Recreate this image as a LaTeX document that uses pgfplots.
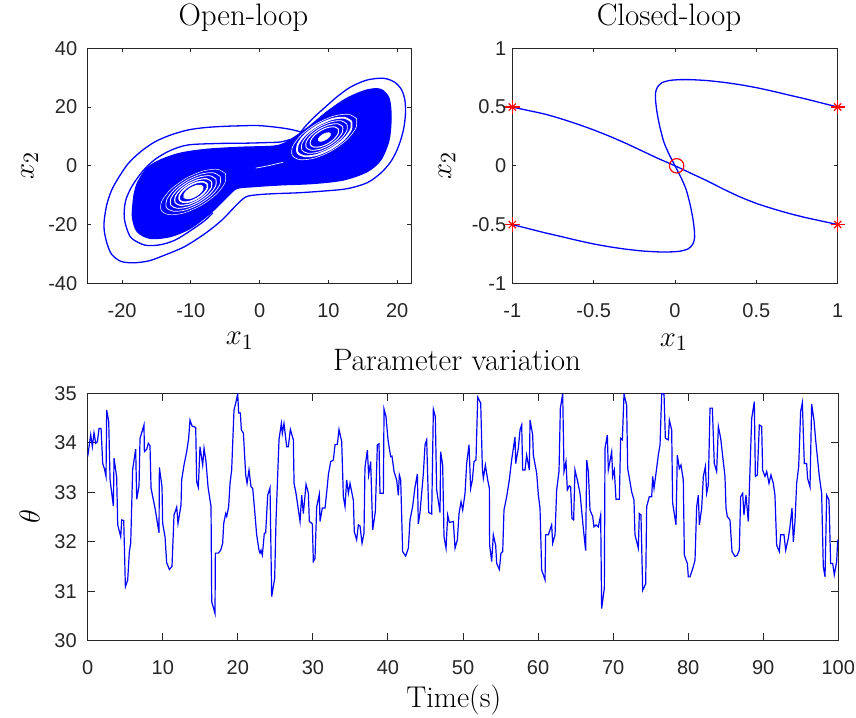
\documentclass[border=0pt]{standalone}
\usepackage{fontspec}
\usepackage{pgfplots}
\pgfplotsset{compat=1.18}
\newfontfamily\ticksf{Liberation Sans}
\definecolor{axgray}{rgb}{0.15,0.15,0.15}

\pgfplotsset{
  mlab/.style={
    scale only axis,
    axis line style={axgray, line width=0.5pt},
    every tick/.style={axgray, line width=0.5pt},
    tick label style={font=\ticksf\fontsize{10}{12}\selectfont, text=axgray},
    /pgf/number format/assume math mode=true,
    title style={font=\fontsize{15.5}{18}\selectfont, anchor=base,
      at={(axis description cs:0.5,1)}, yshift=5.5pt, xshift=-3pt},
    label style={font=\fontsize{15}{18}\selectfont},
    xticklabel style={yshift=-6.5pt},
  },
  traj/.style={blue, line width=0.65pt},
}

\begin{document}
\begin{tikzpicture}
\useasboundingbox (0,0) rectangle (428pt,358.5pt);

% ---------------- open-loop attractor ----------------
\begin{axis}[mlab,
  at={(43.85pt,216.85pt)}, anchor=south west,
  width=161.65pt, height=117.5pt,
  xmin=-25, xmax=22, ymin=-40, ymax=40,
  xtick={-20,-10,0,10,20}, ytick={-40,-20,0,20,40},
  major tick length=1.8pt,
  yticklabel style={xshift=-1.7pt},
  title={Open-loop},
  xlabel={$x_1$}, ylabel={$x_2$},
  xlabel style={at={([xshift=-4.8pt,yshift=-30.8pt]axis description cs:0.5,0)}, anchor=base},
  ylabel style={at={([xshift=-29pt]axis description cs:0,0.5)}, anchor=center},
]
% dense core of the trajectory
\addplot[draw=blue, fill=blue, line width=0.65pt, smooth, tension=0.5] coordinates {
(-18.3,-10.5) (-17.8,-6) (-16.4,-0.9) (-14.4,2) (-11.5,4.3) (-7.7,5.6) (-2.8,6.3)
(2.1,6.7) (4,8.2) (6.9,12.8) (9.8,18.4) (12.7,23) (15.6,25.8) (17.6,26) (18.8,23)
(19.1,16.7) (18.8,8.8) (17.6,2) (15.6,-2) (12.2,-4.8) (7.9,-6) (3,-6.5) (-0.9,-7.1)
(-3.3,-7.7) (-4.7,-10.5) (-7.2,-16.2) (-10.1,-21.3) (-13,-24.1) (-15.9,-24.7)
(-17.8,-22.4) (-18.5,-17.3) (-18.3,-10.5)};
% outer excursions
\addplot[traj, smooth, tension=0.5] coordinates {
(5.6,9.8) (6.3,12.5) (7.8,16.3) (9.5,19.9) (11.2,23.4) (13.2,26.8) (15.6,29.2) (18,29.8)
(19.6,28.5) (20.6,26) (21.1,22.5) (21.2,18) (21,13.5) (20.6,9.5) (19.9,5) (19,1.2)
(17.6,-2.5) (15.6,-5.8) (12.7,-7.8) (9.3,-8.6) (5.5,-9.2) (2,-9.5) (-0.5,-9.9)
(-2.1,-10.7) (-3.6,-13.9) (-5.5,-18.5) (-7.9,-23) (-10.9,-27.5) (-13.8,-30.4)
(-16,-32.3) (-18.1,-33) (-20.1,-32.6) (-21.5,-30.2) (-22.2,-26.4) (-22.6,-22)
(-22.6,-18.5) (-22.2,-13) (-21.5,-8.2) (-20.5,-4) (-19.1,0.8) (-17.3,4.8) (-15.2,8.2)
(-12.8,10.6) (-10.4,12.2) (-8,13) (-5.5,13.4) (-3,13.6) (-0.2,13.7) (2.5,13.1)
(4.5,12.4) (5.9,11.6) (7,11.2)};
\addplot[traj, smooth, tension=0.5] coordinates {
(4.5,9) (3,8.1) (1,7.9) (-2.1,7.7) (-6,7.6) (-10.4,7.1) (-13,5.2) (-15.2,2.2)
(-17,-1.8) (-18.6,-7.1) (-19.5,-12) (-19.7,-17.3) (-19.3,-21.5) (-18.6,-24.7)
(-16.7,-27) (-14.5,-26.9) (-12.3,-25.3) (-10,-22) (-7.9,-18.5) (-6.8,-16)};
% gaps between the inner turns, left wing
\addplot[draw=white, fill=white, line width=0.3pt, smooth] coordinates {
(-8.25,-7.05) (-8.62,-6.56) (-9.26,-6.71) (-10.00,-7.45) (-10.65,-8.58) (-11.02,-9.81)
(-11.03,-10.79) (-10.66,-11.28) (-10.02,-11.13) (-9.28,-10.39) (-8.63,-9.26) (-8.26,-8.04)
(-8.25,-7.05)};
\addplot[white, line width=0.8pt, smooth] coordinates {
(-7.62,-6.20) (-8.17,-5.46) (-9.11,-5.64) (-10.19,-6.71) (-11.12,-8.37) (-11.66,-10.17)
(-11.66,-11.64) (-11.11,-12.39) (-10.18,-12.20) (-9.10,-11.13) (-8.16,-9.47) (-7.62,-7.67)
(-7.62,-6.20)};
\addplot[white, line width=0.55pt, smooth] coordinates {
(-7.00,-5.35) (-7.70,-4.42) (-8.92,-4.71) (-10.33,-6.12) (-11.56,-8.28) (-12.28,-10.62)
(-12.29,-12.49) (-11.59,-13.42) (-10.36,-13.13) (-8.95,-11.72) (-7.72,-9.56) (-7.00,-7.23)
(-7.00,-5.35)};
\addplot[white, line width=0.45pt, smooth] coordinates {
(-6.37,-4.49) (-7.22,-3.39) (-8.73,-3.77) (-10.48,-5.53) (-12.00,-8.20) (-12.90,-11.06)
(-12.92,-13.35) (-12.06,-14.45) (-10.55,-14.07) (-8.80,-12.31) (-7.28,-9.64) (-6.39,-6.78)
(-6.37,-4.49)};
\addplot[white, line width=0.35pt, smooth] coordinates {
(-5.74,-3.64) (-6.75,-2.36) (-8.54,-2.84) (-10.62,-4.94) (-12.44,-8.11) (-13.51,-11.50)
(-13.55,-14.20) (-12.53,-15.48) (-10.74,-15.01) (-8.66,-12.90) (-6.84,-9.73) (-5.77,-6.34)
(-5.74,-3.64)};
\addplot[white, line width=0.25pt, smooth] coordinates {
(-4.98,-2.62) (-6.17,-1.18) (-8.29,-1.81) (-10.77,-4.35) (-12.95,-8.11) (-14.24,-12.09)
(-14.30,-15.22) (-13.11,-16.66) (-10.99,-16.03) (-8.51,-13.49) (-6.33,-9.73) (-5.04,-5.75)
(-4.98,-2.62)};
% gaps between the inner turns, right wing
\addplot[draw=white, fill=white, line width=0.3pt, smooth] coordinates {
(10.29,10.99) (10.07,11.27) (9.66,11.16) (9.19,10.69) (8.78,9.97) (8.54,9.21)
(8.53,8.61) (8.76,8.33) (9.16,8.44) (9.63,8.92) (10.04,9.63) (10.28,10.39) (10.29,10.99)};
\addplot[white, line width=0.5pt, smooth] coordinates {
(11.43,12.52) (10.88,13.27) (9.95,13.08) (8.87,12.01) (7.93,10.35) (7.39,8.55)
(7.39,7.08) (7.94,6.34) (8.88,6.52) (9.96,7.59) (10.89,9.25) (11.43,11.05) (11.43,12.52)};
\addplot[white, line width=0.45pt, smooth] coordinates {
(12.06,13.37) (11.36,14.30) (10.13,14.01) (8.72,12.60) (7.49,10.44) (6.77,8.11)
(6.77,6.23) (7.47,5.30) (8.69,5.59) (10.10,7.00) (11.33,9.16) (12.05,11.50) (12.06,13.37)};
\addplot[white, line width=0.4pt, smooth] coordinates {
(12.69,14.23) (11.83,15.33) (10.32,14.95) (8.57,13.19) (7.05,10.52) (6.16,7.66)
(6.14,5.37) (6.99,4.27) (8.50,4.65) (10.25,6.41) (11.77,9.08) (12.67,11.94) (12.69,14.23)};
\addplot[white, line width=0.9pt, smooth] coordinates {
(13.32,15.08) (12.30,16.36) (10.51,15.89) (8.43,13.78) (6.61,10.61) (5.54,7.22)
(5.51,4.52) (6.52,3.24) (8.31,3.72) (10.39,5.82) (12.21,8.99) (13.28,12.38) (13.32,15.08)};
\addplot[white, line width=0.3pt, smooth] coordinates {
(14.07,16.10) (12.88,17.54) (10.76,16.91) (8.28,14.37) (6.10,10.61) (4.81,6.63)
(4.75,3.50) (5.94,2.06) (8.06,2.69) (10.54,5.23) (12.72,8.99) (14.01,12.97) (14.07,16.10)};
% thin sliver where the wings cross over
\addplot[white, line width=0.35pt, smooth] coordinates {(-0.6,-0.8) (1.2,0) (3.4,1.2)};
\end{axis}

% ---------------- closed-loop trajectories ----------------
\begin{axis}[mlab,
  at={(256.15pt,216.85pt)}, anchor=south west,
  width=162.7pt, height=117.5pt,
  xmin=-1, xmax=1, ymin=-1, ymax=1,
  xtick={-1,-0.5,0,0.5,1}, ytick={-1,-0.5,0,0.5,1},
  major tick length=1.8pt,
  yticklabel style={xshift=0.5pt},
  clip=false,
  title={Closed-loop},
  xlabel={$x_1$}, ylabel={$x_2$},
  xlabel style={at={([xshift=-0.6pt,yshift=-31.5pt]axis description cs:0.5,0)}, anchor=base},
  ylabel style={at={([xshift=-32.6pt]axis description cs:0,0.5)}, anchor=center},
]
\addplot[traj, smooth, tension=0.4] coordinates {
(-1,0.5) (-0.9,0.47) (-0.8,0.44) (-0.7,0.40) (-0.6,0.355) (-0.5,0.305) (-0.4,0.25)
(-0.3,0.19) (-0.2,0.125) (-0.1,0.06) (0,0) (0.1,-0.065) (0.2,-0.13) (0.3,-0.2)
(0.4,-0.265) (0.5,-0.32) (0.6,-0.365) (0.7,-0.405) (0.8,-0.44) (0.9,-0.47) (1,-0.5)};
\addplot[traj, smooth, tension=0.4] coordinates {
(1,0.5) (0.9,0.535) (0.8,0.57) (0.7,0.602) (0.6,0.635) (0.5,0.665) (0.4,0.69)
(0.3,0.71) (0.2,0.725) (0.1,0.733) (0.03,0.733) (-0.03,0.727) (-0.08,0.708)
(-0.108,0.67) (-0.12,0.62) (-0.119,0.55) (-0.11,0.45) (-0.093,0.33) (-0.068,0.2)
(-0.037,0.1) (0,0) (0.037,-0.1) (0.068,-0.2) (0.093,-0.33) (0.11,-0.45) (0.119,-0.55)
(0.12,-0.62) (0.108,-0.67) (0.08,-0.708) (0.03,-0.727) (-0.03,-0.733) (-0.1,-0.733)
(-0.2,-0.725) (-0.3,-0.71) (-0.4,-0.69) (-0.5,-0.665) (-0.6,-0.635) (-0.7,-0.602)
(-0.8,-0.57) (-0.9,-0.535) (-1,-0.5)};
% initial states
\addplot[only marks, red, mark=+, mark size=3.6pt, line width=0.6pt]
  coordinates {(-1,0.5) (1,0.5) (-1,-0.5) (1,-0.5)};
\addplot[only marks, red, mark=x, mark size=2.55pt, line width=0.6pt]
  coordinates {(-1,0.5) (1,0.5) (-1,-0.5) (1,-0.5)};
% equilibrium
\addplot[only marks, red, mark=o, mark size=3.6pt, line width=0.6pt]
  coordinates {(0.01,0)};
\end{axis}

% ---------------- parameter variation ----------------
\begin{axis}[mlab,
  at={(43.85pt,38.15pt)}, anchor=south west,
  width=375.3pt, height=123.7pt,
  xmin=0, xmax=100, ymin=30, ymax=35,
  xtick={0,10,...,100}, ytick={30,31,...,35},
  major tick length=3.7pt,
  yticklabel style={xshift=-2pt},
  title={Parameter variation},
  xlabel={Time(s)}, ylabel={$\theta$},
  xlabel style={at={([xshift=-4.6pt,yshift=-33.2pt]axis description cs:0.5,0)}, anchor=base},
  ylabel style={at={([xshift=-29pt]axis description cs:0,0.5)}, anchor=center},
]
\addplot[traj, line width=0.6pt] coordinates {
(0,33.72) (0.40,34.16) (0.62,33.92) (0.84,34.20) (1.07,33.99) (1.29,34.02) (1.51,34.29)
(1.78,34.29) (2.00,33.58) (2.22,33.48) (2.44,33.32) (2.53,34.66) (2.80,34.43) (2.98,33.25)
(3.42,32.72) (3.51,33.69) (3.86,33.30) (4.00,32.34) (4.40,32.10) (4.53,32.44) (4.80,32.43)
(5.02,31.09) (5.33,31.23) (5.55,31.80) (5.73,31.97) (5.99,33.46) (6.39,33.87) (6.53,32.86)
(6.84,33.13) (6.97,34.09) (7.50,34.36) (7.55,33.82) (7.86,33.87) (8.08,33.99) (8.30,33.94)
(8.44,33.08) (8.97,32.68) (9.50,32.18) (9.55,33.50) (9.90,33.11) (9.99,32.37) (10.30,32.10)
(10.52,31.58) (10.88,31.44) (11.23,31.50) (11.50,32.54) (11.86,32.70) (12.03,32.37)
(12.43,32.74) (12.52,33.25) (12.83,33.55) (13.19,33.82) (13.45,34.09) (13.63,34.46)
(13.90,34.34) (14.39,34.31) (14.52,33.21) (14.74,33.10) (14.96,33.92) (15.32,33.55)
(15.50,33.89) (15.76,33.62) (16.03,33.11) (16.43,32.71) (16.52,30.79) (16.96,30.55)
(17.01,31.77) (17.41,31.77) (17.72,31.83) (17.98,31.97) (18.12,32.37) (18.38,32.57)
(18.52,32.51) (18.78,32.71) (18.96,33.18) (19.18,33.45) (19.49,34.66) (19.76,34.83)
(19.98,34.99) (20.12,34.60) (20.34,34.60) (20.47,34.26) (20.74,34.20) (21.05,33.35)
(21.23,33.18) (21.49,33.45) (21.76,33.11) (21.98,33.08) (22.20,32.71) (22.51,32.14)
(22.82,31.83) (22.96,31.77) (23.09,31.83) (23.27,31.73) (23.53,32.17) (23.71,32.18)
(23.98,32.94) (24.29,33.09) (24.51,30.89) (24.91,31.26) (25.09,32.44) (25.49,34.07)
(25.80,34.39) (25.93,34.19) (26.15,34.39) (26.51,33.92) (26.73,33.92) (27.00,34.27)
(27.40,34.06) (27.49,33.18) (27.75,32.98) (28.29,32.41) (28.51,32.94) (28.73,32.57)
(29.09,33.16) (29.40,32.98) (29.53,32.41) (29.93,32.36) (30.06,31.60) (30.28,31.66)
(30.51,32.71) (30.86,32.96) (30.95,32.41) (31.26,32.68) (31.62,32.68) (31.93,33.13)
(32.06,33.35) (32.37,33.62) (32.73,33.65) (32.95,33.96) (33.26,33.97) (33.48,34.27)
(33.84,34.02) (34.06,32.91) (34.28,32.71) (34.50,33.25) (34.73,32.98) (34.95,33.18)
(35.39,32.84) (35.52,32.20) (35.83,32.04) (36.06,32.34) (36.28,32.32) (36.55,31.97)
(36.81,32.17) (36.94,33.50) (37.26,33.85) (37.43,33.35) (37.70,33.62) (37.97,32.24)
(38.32,32.61) (38.59,33.96) (38.81,33.98) (38.94,32.98) (39.39,32.98) (39.48,34.68)
(39.74,34.53) (40.01,34.06) (40.36,33.72) (40.54,33.73) (40.81,33.42) (41.16,33.25)
(41.39,32.94) (41.52,33.35) (41.70,33.25) (41.96,31.80) (42.36,31.71) (42.72,31.87)
(42.94,32.44) (43.29,32.71) (43.61,33.11) (43.92,33.37) (44.05,32.36) (44.27,32.59)
(44.72,33.38) (44.94,33.96) (45.16,34.06) (45.43,32.59) (45.83,32.56) (46.05,34.68)
(46.31,34.53) (46.49,33.05) (46.94,32.59) (47.02,33.82) (47.29,33.55) (47.47,32.10)
(47.74,31.87) (47.96,32.54) (48.18,32.39) (48.71,32.41) (48.94,31.87) (49.25,32.04)
(49.47,32.57) (49.74,32.81) (49.96,32.64) (50.27,32.98) (50.49,33.58) (50.80,33.96)
(51.02,33.08) (51.25,33.25) (51.47,33.62) (51.73,33.65) (51.96,34.92) (52.36,34.80)
(52.58,33.48) (52.71,33.28) (52.98,33.55) (53.29,33.25) (53.51,33.08) (53.55,31.93)
(53.82,31.60) (54.04,32.14) (54.35,31.93) (54.49,31.56) (54.84,31.44) (55.06,31.77)
(55.29,31.80) (55.46,32.64) (55.82,32.91) (56.17,33.25) (56.48,33.65) (56.93,34.12)
(57.02,33.58) (57.37,33.89) (57.60,34.26) (57.82,34.36) (57.95,33.45) (58.26,33.45)
(58.48,33.75) (58.84,33.45) (58.93,34.46) (59.28,34.16) (59.37,33.75) (59.82,33.38)
(60.04,32.94) (60.26,32.68) (60.48,31.43) (60.93,31.23) (61.01,32.14) (61.37,32.14)
(61.81,32.34) (61.95,31.97) (62.26,32.14) (62.48,33.05) (62.79,33.42) (62.97,34.70)
(63.28,34.99) (63.46,33.42) (63.72,33.62) (63.90,33.05) (64.17,33.13) (64.34,33.11)
(64.52,32.47) (64.74,32.44) (64.92,33.45) (65.23,33.25) (65.59,32.98) (66.03,32.27)
(66.34,31.82) (66.48,33.65) (66.70,33.42) (66.92,32.64) (67.28,32.51) (67.45,32.30)
(67.72,32.34) (68.03,32.30) (68.34,32.54) (68.47,30.65) (68.83,31.06) (68.92,33.89)
(69.23,34.16) (69.36,33.45) (69.81,33.82) (69.94,33.32) (70.16,33.45) (70.38,32.86)
(70.83,32.86) (71.00,34.09) (71.23,34.06) (71.45,34.99) (71.80,34.76) (71.94,33.48)
(72.25,33.21) (72.47,33.01) (72.78,32.84) (72.91,32.14) (73.36,31.87) (73.49,32.57)
(73.71,32.54) (73.94,31.02) (74.34,31.15) (74.47,32.71) (74.82,32.91) (75.14,32.91)
(75.27,33.32) (75.45,33.08) (75.71,33.38) (76.02,33.75) (76.25,33.96) (76.47,34.99)
(76.78,34.99) (76.96,34.09) (77.36,34.06) (77.49,34.46) (77.80,34.26) (77.93,32.78)
(78.38,32.34) (78.55,33.75) (78.82,33.48) (79.04,33.55) (79.35,33.25) (79.49,31.73)
(79.89,31.56) (80.02,31.29) (80.24,31.29) (80.69,31.50) (80.91,31.63) (81.13,32.71)
(81.35,32.94) (81.49,32.34) (81.80,32.68) (82.02,33.32) (82.29,33.52) (82.46,32.98)
(82.68,33.15) (82.91,34.70) (83.22,34.70) (83.48,33.58) (83.79,33.42) (84.02,34.33)
(84.33,34.09) (84.90,33.32) (85.04,32.68) (85.21,32.51) (85.57,32.44) (85.84,31.80)
(86.24,31.70) (86.55,31.73) (86.81,31.83) (86.99,32.91) (87.26,32.98) (87.43,32.54)
(87.70,32.94) (88.01,32.41) (88.46,34.49) (88.81,34.83) (88.95,33.32) (89.21,33.35)
(89.48,34.36) (89.79,34.33) (89.92,33.45) (90.23,33.32) (90.46,33.42) (90.77,33.18)
(91.03,33.35) (91.34,33.18) (91.56,32.94) (91.79,31.93) (92.14,31.80) (92.32,32.14)
(92.76,32.14) (92.99,31.83) (93.34,32.07) (93.56,32.30) (93.83,32.68) (94.01,32.00)
(94.23,32.41) (94.45,33.18) (94.72,33.52) (94.98,34.63) (95.21,34.81) (95.47,33.58)
(95.78,33.58) (95.91,33.28) (96.23,33.11) (96.45,34.78) (96.76,34.46) (96.98,34.06)
(97.47,33.32) (97.78,32.98) (98.00,31.50) (98.23,31.29) (98.45,32.94) (98.76,32.84)
(98.98,31.56) (99.25,31.56) (99.47,31.33) (99.78,31.60) (99.91,32.00) (100,32.05)};
\end{axis}
\end{tikzpicture}
\end{document}
